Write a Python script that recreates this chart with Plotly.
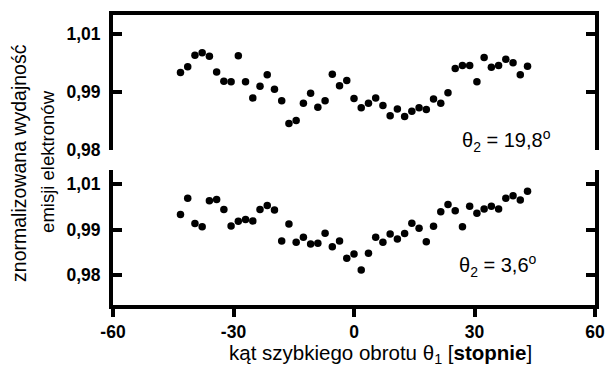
import plotly.graph_objects as go

# rotation angle theta_1 in degrees (1.8 degree steps)
theta1 = [round(-43.2 + 1.8 * i, 1) for i in range(49)]

# normalised electron emission yield, theta_2 = 19.8 deg
yield_198 = [
    0.9934, 0.9944, 0.9964, 0.9968, 0.9962, 0.9935, 0.9919, 0.9918, 0.9963, 0.9918,
    0.9890, 0.9910, 0.9930, 0.9905, 0.9885, 0.9846, 0.9851, 0.9881, 0.9898, 0.9874,
    0.9885, 0.9931, 0.9911, 0.9920, 0.9889, 0.9873, 0.9881, 0.9890, 0.9877, 0.9859,
    0.9871, 0.9858, 0.9867, 0.9873, 0.9870, 0.9888, 0.9881, 0.9899, 0.9941, 0.9946,
    0.9946, 0.9918, 0.9960, 0.9943, 0.9946, 0.9957, 0.9951, 0.9930, 0.9945,
]

# normalised electron emission yield, theta_2 = 3.6 deg
yield_36 = [
    0.9933, 0.9969, 0.9913, 0.9906, 0.9963, 0.9966, 0.9944, 0.9908, 0.9918, 0.9922,
    0.9919, 0.9944, 0.9953, 0.9943, 0.9875, 0.9912, 0.9872, 0.9883, 0.9868, 0.9870,
    0.9892, 0.9862, 0.9875, 0.9837, 0.9846, 0.9811, 0.9848, 0.9883, 0.9872, 0.9890,
    0.9879, 0.9891, 0.9914, 0.9903, 0.9873, 0.9907, 0.9939, 0.9955, 0.9941, 0.9906,
    0.9951, 0.9936, 0.9945, 0.9951, 0.9945, 0.9969, 0.9974, 0.9965, 0.9984,
]

x_ticks = [-60, -30, 0, 30, 60]
x_ticktext = ["-60", "-30", "0", "30", "60"]
y_ticks = [0.98, 0.99, 1.00]
y_ticktext = ["0,98", "0,99", "1,01"]

FONT = "Arial, Liberation Sans, sans-serif"
tickfont = dict(family=FONT, size=17.5, color="black", weight="bold")

fig = go.Figure()
fig.add_trace(go.Scatter(x=theta1, y=yield_198, mode="markers", xaxis="x", yaxis="y",
                         marker=dict(size=7.5, color="black"), showlegend=False))
fig.add_trace(go.Scatter(x=theta1, y=yield_36, mode="markers", xaxis="x2", yaxis="y2",
                         marker=dict(size=7.5, color="black"), showlegend=False))

yax = dict(showline=True, linewidth=4, linecolor="black", mirror="ticks",
           ticks="inside", ticklen=9, tickwidth=4, tickcolor="black",
           tickvals=y_ticks, ticktext=y_ticktext, tickfont=tickfont,
           ticklabelstandoff=5, showgrid=False, zeroline=False)

fig.update_layout(
    width=615, height=384,
    margin=dict(l=113, r=10, t=15, b=79),
    paper_bgcolor="white", plot_bgcolor="white",
    xaxis=dict(domain=[0, 1], anchor="y", side="top", range=[-60, 60],
               showline=True, linewidth=4, linecolor="black", ticks="",
               showticklabels=False, showgrid=False, zeroline=False),
    yaxis=dict(domain=[0.5345, 1.0], anchor="x", range=[0.98, 1.00334], **yax),
    xaxis2=dict(domain=[0, 1], anchor="y2", side="bottom", range=[-60, 60],
                showline=True, linewidth=4, linecolor="black",
                ticks="outside", ticklen=8, tickwidth=4, tickcolor="black",
                tickvals=x_ticks, ticktext=x_ticktext, tickfont=tickfont,
                showgrid=False, zeroline=False),
    yaxis2=dict(domain=[0, 0.4655], anchor="x2", range=[0.97341, 1.00308], **yax),
)

annot_font = dict(family=FONT, size=20, color="black")
fig.add_annotation(x=26.3, y=0.9817, xref="x", yref="y", xanchor="left", yanchor="middle",
                   text="θ<sub>2</sub> = 19,8<sup>o</sup>", showarrow=False, font=annot_font)
fig.add_annotation(x=25.6, y=0.9822, xref="x2", yref="y2", xanchor="left", yanchor="middle",
                   text="θ<sub>2</sub> = 3,6<sup>o</sup>", showarrow=False, font=annot_font)

# axis titles
fig.add_annotation(x=0.555, y=-0.168, xref="paper", yref="paper", xanchor="center",
                   yanchor="middle", showarrow=False,
                   text="kąt szybkiego obrotu θ<sub>1</sub> [<b>stopnie</b>]",
                   font=dict(family=FONT, size=20.5, color="black"))
fig.add_annotation(x=-0.195, y=0.49, xref="paper", yref="paper", xanchor="center",
                   yanchor="middle", showarrow=False, textangle=-90,
                   text="znormalizowana wydajność",
                   font=dict(family=FONT, size=19.5, color="black"))
fig.add_annotation(x=-0.136, y=0.495, xref="paper", yref="paper", xanchor="center",
                   yanchor="middle", showarrow=False, textangle=-90,
                   text="emisji elektronów",
                   font=dict(family=FONT, size=18.5, color="black"))

fig.write_html("out.html")
